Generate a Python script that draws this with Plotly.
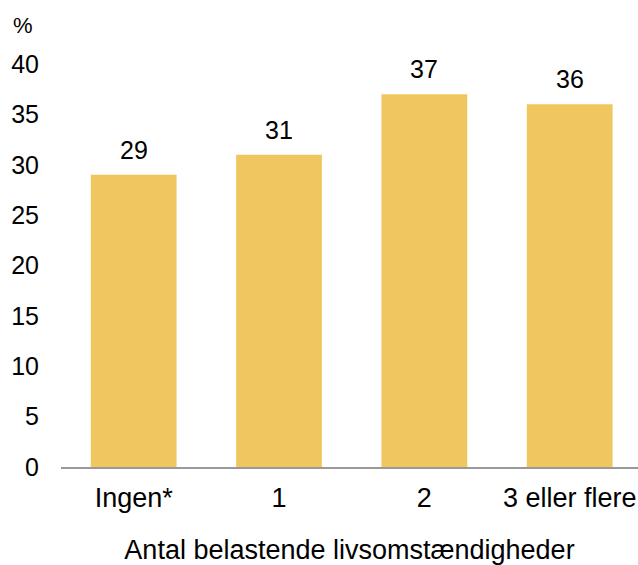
import plotly.graph_objects as go

categories = ["Ingen*", "1", "2", "3 eller flere"]
values = [29, 31, 37, 36]
y_ticks = [0, 5, 10, 15, 20, 25, 30, 35, 40]

BAR_COLOR = "#F0C75E"
FONT = "Liberation Sans, Arial, sans-serif"

fig = go.Figure()
fig.add_trace(go.Bar(
    x=categories,
    y=values,
    marker=dict(color=BAR_COLOR, line=dict(width=0)),
    width=0.59,
    hoverinfo="x+y",
))

# value labels above bars
for c, v in zip(categories, values):
    fig.add_annotation(
        x=c, y=v, text=str(v), showarrow=False,
        yanchor="bottom", yshift=9,
        font=dict(family=FONT, size=25, color="#000000"),
    )

fig.add_annotation(
    xref="paper", yref="paper", x=-0.066, y=1.095,
    text="%", showarrow=False, xanchor="center", yanchor="middle",
    font=dict(family=FONT, size=22, color="#000000"),
)

fig.update_layout(
    width=638, height=565,
    margin=dict(l=61, r=0, t=64, b=98),
    plot_bgcolor="white",
    paper_bgcolor="white",
    showlegend=False,
    font=dict(family=FONT, size=25, color="#000000"),
)

fig.update_xaxes(
    type="category",
    range=[-0.5, 3.47],
    showline=True, linecolor="#999999", linewidth=2,
    showgrid=False, ticks="",
    tickfont=dict(family=FONT, size=27),
    ticklabelstandoff=6,
    title=dict(text="Antal belastende livsomstændigheder",
               font=dict(family=FONT, size=27), standoff=36),
    automargin=False,
)

fig.update_yaxes(
    range=[0, 40],
    tickvals=y_ticks,
    showline=False, showgrid=False, zeroline=False, ticks="",
    tickfont=dict(family=FONT, size=25),
    ticklabelstandoff=21,
    automargin=False,
)

fig.write_html("out.html", config={"displayModeBar": False},
               post_script="document.body.style.margin='0px';")
